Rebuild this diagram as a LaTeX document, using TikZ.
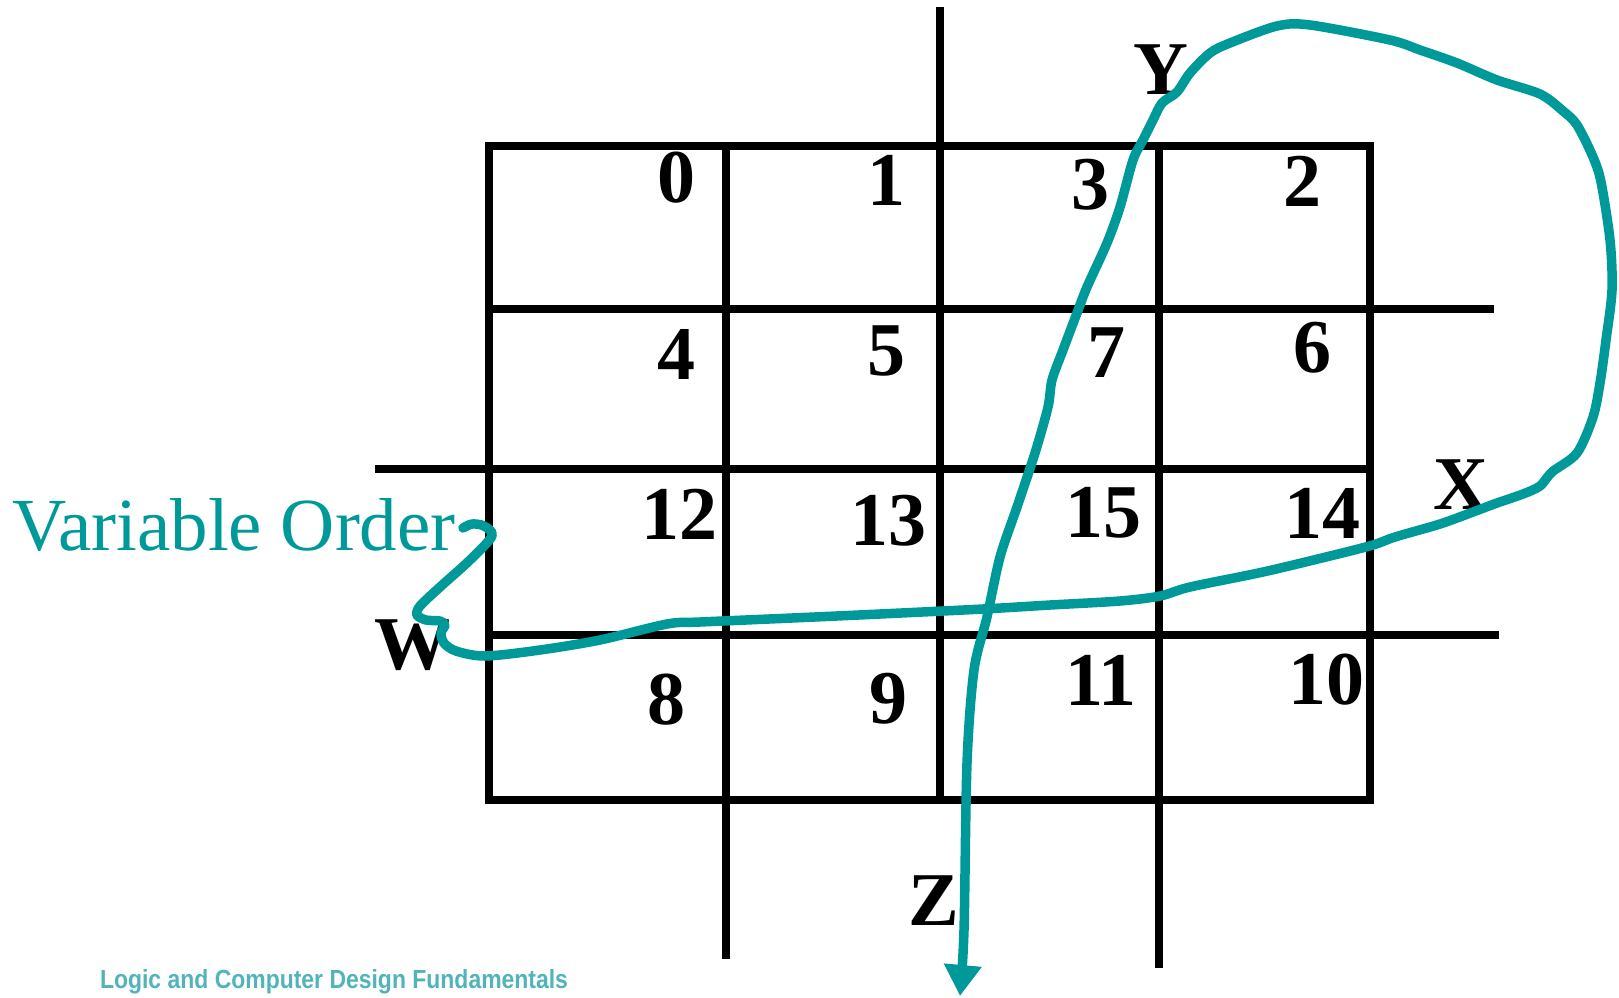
\documentclass[tikz,border=0pt]{standalone}
\usepackage{fontspec}
\setmainfont{Liberation Serif}
\newfontfamily\footfont{Liberation Sans}
\usepackage{graphicx}
\usetikzlibrary{arrows.meta}
\definecolor{tealc}{RGB}{0,153,153}
\definecolor{footc}{RGB}{80,180,185}
\tikzset{
  gridline/.style={line width=7.5pt, black},
  cellnum/.style={inner sep=0pt, font=\fontsize{76}{76}\selectfont\bfseries},
  varlab/.style={inner sep=0pt, font=\fontsize{76}{76}\selectfont\bfseries},
  orderpath/.style={line width=9.5pt, tealc, line join=round, line cap=round},
}
\begin{document}
\begin{tikzpicture}[x=1pt,y=-1pt]
\useasboundingbox (0,0) rectangle (1619,997);
% grid
\draw[gridline] (489,146) rectangle (1370,800);
\draw[gridline] (726,146) -- (726,959);
\draw[gridline] (940,7) -- (940,800);
\draw[gridline] (1159,146) -- (1159,968);
\draw[gridline] (485,309) -- (1494,309);
\draw[gridline] (375,469) -- (1373,469);
\draw[gridline] (489,635) -- (1499,635);
% cell numbers
\node[cellnum] (n0) at (676,178) {0};
\node[cellnum] (n1) at (886,180) {1};
\node[cellnum] (n3) at (1090,185) {3};
\node[cellnum] (n2) at (1302,181) {2};
\node[cellnum] (n4) at (676,354) {4};
\node[cellnum] (n5) at (886,351) {5};
\node[cellnum] (n7) at (1106,353) {7};
\node[cellnum] (n6) at (1312,348) {6};
\node[cellnum] (n12) at (679,514) {12};
\node[cellnum] (n13) at (888,521) {13};
\node[cellnum] (n15) at (1103,513) {15};
\node[cellnum] (n14) at (1322,513) {14};
\node[cellnum] (n8) at (666,700) {8};
\node[cellnum] (n9) at (888,699) {9};
\node[cellnum] (n11) at (1101,680) {11};
\node[cellnum] (n10) at (1326,680) {10};
% variable labels
\node[varlab] (Y) at (1161,70) {Y};
\node[varlab] (X) at (1461,485) {X};
\node[varlab] (W) at (412,645) {W};
\node[varlab] (Z) at (934,901) {Z};
% variable order label
\node[inner sep=0pt, anchor=base west, text=tealc, font=\fontsize{75}{75}\selectfont] (vo) at (12,550) {Variable Order};
% footer
\node[inner sep=0pt, text=footc] (foot) at (334,982) {\resizebox{468pt}{19pt}{\footfont\bfseries Logic and Computer Design Fundamentals}};
% order path
\coordinate (pstart) at (463,528);
\coordinate (pend) at (960,996);
\draw[orderpath, -{Triangle[length=31pt,width=36pt]}] plot[smooth, tension=0.5] coordinates {
 (pstart) (472,524) (484,526) (492,536) (470,560) (440,587) (420,606) (417,615)
 (426,620) (440,621) (445,625) (441,633) (444,643) (456,651) (485,656)
 (540,650) (600,640) (667,624) (700,622) (792,618) (880,614) (983,609)
 (1050,605) (1120,601) (1160,596) (1190,587) (1263,572) (1330,556) (1373,545)
 (1395,537) (1440,524) (1473,512) (1497,503) (1523,494) (1540,486) (1552,472)
 (1577,453) (1593,417) (1600,383) (1606,340) (1612,290) (1610,240) (1601,182)
 (1593,157) (1577,125) (1563,111) (1540,94) (1497,80) (1457,63) (1420,50)
 (1390,40) (1310,25) (1277,26) (1230,43) (1210,53) (1190,73) (1177,92)
 (1162,103) (1153,120) (1143,140) (1133,160) (1120,207) (1107,243) (1087,287)
 (1077,313) (1063,350) (1052,380) (1048,407) (1035,453) (1017,507) (1000,557)
 (987,617) (974,670) (967,763) (964,930) (pend)
};
\end{tikzpicture}
\end{document}
